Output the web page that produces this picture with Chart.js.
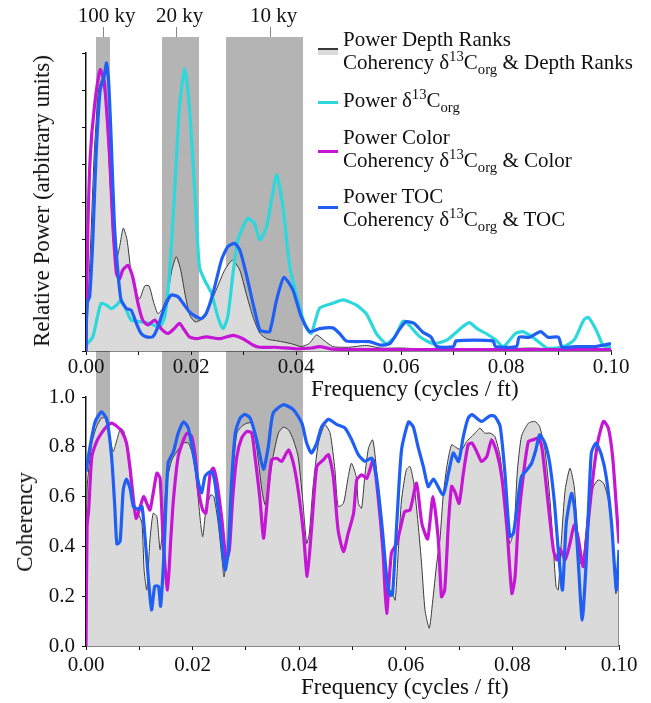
<!DOCTYPE html>
<html>
<head>
<meta charset="utf-8">
<script src="https://cdn.jsdelivr.net/npm/chart.js@4.4.1/dist/chart.umd.min.js"></script>
<style>
  body { margin: 0; background: #fff; }
  #wrap { position: relative; width: 651px; height: 703px; overflow: hidden;
          font-family: 'Liberation Serif', 'Times New Roman', serif; color: #111; }
  canvas { position: absolute; left: 0; }
  .txt { position: absolute; white-space: nowrap; }
  .title { font-size: 23px; line-height: 24px; }
  .vtitle { font-size: 23px; line-height: 24px; transform: translate(-50%, -50%) rotate(-90deg); }
  .legend { font-size: 21px; line-height: 23px; }
  .legend sup, .legend sub { font-size: 70%; line-height: 0; }
  .legend sub { vertical-align: -0.35em; }
  .legend sup { vertical-align: 0.55em; }
  .swatch { position: absolute; left: 318px; width: 20px; }
</style>
</head>
<body>
<div id="wrap">
  <canvas id="power" width="651" height="395" style="top:0"></canvas>
  <canvas id="coh" width="651" height="328" style="top:375px"></canvas>
  <div class="txt vtitle" style="left:42px; top:201px">Relative Power (arbitrary units)</div>
  <div class="txt title" style="left:311px; top:377px">Frequency (cycles / ft)</div>
  <div class="txt vtitle" style="left:25px; top:522px">Coherency</div>
  <div class="txt title" style="left:301px; top:675px">Frequency (cycles / ft)</div>
  <div id="legend"></div>
</div>
<script>
// orbital cycle bands (cycles / ft) and their labels
const cycleBands = [[0.0019, 0.0046], [0.0145, 0.0216], [0.0266, 0.0413]];
const cycleLabels = ['100 ky', '20 ky', '10 ky'];
const cycleLabelFreq = [0.00315, 0.0172, 0.0351];

// power spectra: [frequency, relative power]
const powerDepthRanks = [[0,0],[0.0008,2.6],[0.0016,5.4],[0.0024,7.0],[0.0031,7.3],[0.0038,6.6],[0.0045,4.8],
  [0.0051,3.1],[0.0057,2.4],[0.0064,2.8],[0.0071,3.3],[0.0078,3.0],[0.0086,2.1],[0.0094,1.6],[0.0102,1.4],
  [0.0112,1.75],[0.012,1.75],[0.0129,1.3],[0.0137,1.0],[0.0146,1.15],[0.0155,1.5],[0.0164,2.2],[0.0172,2.53],
  [0.018,2.2],[0.0189,1.5],[0.0198,0.95],[0.0208,0.78],[0.022,0.85],[0.0232,1.1],[0.0248,1.64],[0.0264,2.17],
  [0.0279,2.44],[0.0293,2.17],[0.0305,1.55],[0.0318,0.92],[0.0331,0.48],[0.0345,0.32],[0.0365,0.27],[0.039,0.2],
  [0.041,0.12],[0.0425,0.2],[0.0439,0.43],[0.0452,0.3],[0.047,0.12],[0.05,0.1],[0.0534,0.15],[0.056,0.08],
  [0.06,0.08],[0.065,0.05],[0.07,0.07],[0.075,0.05],[0.08,0.06],[0.085,0.08],[0.09,0.05],[0.095,0.04],[0.1,0.03]];
const powerD13C = [[0,0.16],[0.0013,0.38],[0.0023,1.0],[0.0029,1.28],[0.0039,1.23],[0.0048,1.14],[0.0058,1.23],
  [0.0067,1.36],[0.0077,1.1],[0.0086,0.83],[0.0102,0.79],[0.0121,0.74],[0.014,0.65],[0.015,0.92],[0.0159,2.08],
  [0.0169,4.32],[0.0178,6.55],[0.0188,7.58],[0.0197,6.55],[0.0207,4.32],[0.0216,2.26],[0.0226,1.9],[0.0239,1.55],
  [0.0251,0.92],[0.0261,0.6],[0.027,0.92],[0.028,2.08],[0.0289,2.98],[0.0299,3.33],[0.0308,3.56],[0.0321,3.42],
  [0.0331,2.98],[0.0344,3.33],[0.0363,4.72],[0.0375,3.87],[0.0388,2.26],[0.04,1.55],[0.0417,0.7],[0.0429,0.47],
  [0.0445,1.15],[0.047,1.28],[0.049,1.37],[0.0515,1.23],[0.0534,1.0],[0.0553,0.47],[0.0572,0.2],[0.0588,0.38],
  [0.0604,0.8],[0.0612,0.75],[0.0636,0.38],[0.0661,0.2],[0.0687,0.29],[0.0713,0.6],[0.073,0.76],[0.0745,0.6],
  [0.0762,0.47],[0.078,0.3],[0.0795,0.12],[0.0818,0.47],[0.0832,0.52],[0.085,0.38],[0.0866,0.2],[0.088,0.07],
  [0.091,0.12],[0.093,0.3],[0.0948,0.83],[0.0957,0.9],[0.0972,0.56],[0.0985,0.15],[0.1,0.1]];
const powerColor = [[0,0],[0.0003,2.9],[0.0008,5.2],[0.0016,6.55],[0.0027,7.55],[0.0035,7.2],[0.0045,5.2],
  [0.0051,3.42],[0.0058,2.08],[0.0064,1.94],[0.007,2.17],[0.008,2.3],[0.0089,1.99],[0.0099,1.28],[0.0108,0.83],
  [0.0118,0.7],[0.0131,0.83],[0.0143,0.6],[0.0156,0.47],[0.0168,0.6],[0.0178,0.74],[0.0188,0.55],[0.0197,0.38],
  [0.021,0.33],[0.0229,0.38],[0.0255,0.33],[0.028,0.42],[0.0299,0.33],[0.0318,0.16],[0.0331,0.1],[0.036,0.1],
  [0.04,0.06],[0.043,0.08],[0.0445,0.12],[0.047,0.05],[0.055,0.04],[0.065,0.04],[0.075,0.04],[0.085,0.04],[0.1,0.04]];
const powerTOC = [[0,0],[0.0002,1.28],[0.0007,1.46],[0.0013,2.98],[0.0019,5.2],[0.0027,7.0],[0.0035,7.4],
  [0.0039,7.73],[0.0043,7.27],[0.0048,5.66],[0.0054,3.42],[0.0061,2.08],[0.0067,1.36],[0.0077,1.14],[0.0086,1.1],
  [0.0096,0.74],[0.0105,0.47],[0.0115,0.38],[0.0127,0.38],[0.0137,0.65],[0.015,1.19],[0.0162,1.5],[0.0175,1.46],
  [0.0185,1.28],[0.0197,1.05],[0.021,0.92],[0.022,0.87],[0.0229,1.01],[0.0242,1.55],[0.0258,2.44],[0.027,2.8],
  [0.0283,2.89],[0.0293,2.71],[0.0305,2.08],[0.0318,1.28],[0.0331,0.56],[0.034,0.52],[0.035,0.52],[0.0363,1.37],
  [0.0377,1.98],[0.0394,1.64],[0.041,0.92],[0.0426,0.52],[0.0445,0.6],[0.047,0.62],[0.0483,0.47],[0.0496,0.27],
  [0.054,0.25],[0.056,0.16],[0.0579,0.2],[0.0598,0.6],[0.061,0.79],[0.0625,0.74],[0.0642,0.5],[0.0657,0.38],
  [0.0668,0.12],[0.07,0.12],[0.0705,0.27],[0.0775,0.27],[0.078,0.12],[0.082,0.12],[0.0825,0.37],[0.0845,0.37],
  [0.0866,0.52],[0.088,0.37],[0.09,0.37],[0.0907,0.1],[0.0935,0.12],[0.097,0.12],[0.1,0.2]];

// coherency with d13C: [frequency, coherency]
const cohDepthRanks = [[0,0],[0.0002,0.63],[0.0011,0.815],[0.002,0.882],[0.0029,0.915],[0.0036,0.915],
  [0.0044,0.842],[0.0051,0.781],[0.0058,0.828],[0.0065,0.875],[0.0071,0.862],[0.0077,0.788],[0.0084,0.667],
  [0.009,0.573],[0.0098,0.533],[0.0105,0.493],[0.0109,0.305],[0.0114,0.225],[0.012,0.426],[0.0126,0.533],
  [0.0133,0.52],[0.0139,0.386],[0.0145,0.493],[0.0151,0.654],[0.0161,0.747],[0.0173,0.788],[0.0183,0.815],
  [0.0192,0.815],[0.0201,0.761],[0.0209,0.627],[0.0215,0.493],[0.0219,0.439],[0.0225,0.546],[0.0234,0.607],
  [0.024,0.6],[0.0248,0.493],[0.0256,0.332],[0.0259,0.278],[0.0267,0.412],[0.0275,0.681],[0.0283,0.855],
  [0.0292,0.882],[0.0302,0.895],[0.0311,0.895],[0.032,0.8],[0.033,0.627],[0.0336,0.567],[0.0342,0.627],
  [0.0351,0.761],[0.0361,0.855],[0.037,0.879],[0.038,0.868],[0.0389,0.828],[0.0398,0.761],[0.0406,0.6],
  [0.0414,0.412],[0.0419,0.453],[0.0426,0.64],[0.0436,0.815],[0.0448,0.889],[0.0458,0.855],[0.0467,0.708],
  [0.0473,0.56],[0.0483,0.573],[0.0492,0.68],[0.0498,0.734],[0.0507,0.68],[0.0511,0.573],[0.0517,0.553],
  [0.0523,0.68],[0.053,0.795],[0.0538,0.828],[0.0545,0.708],[0.0553,0.466],[0.0561,0.265],[0.0567,0.198],
  [0.0573,0.225],[0.058,0.184],[0.0586,0.386],[0.0592,0.587],[0.0601,0.708],[0.0608,0.721],[0.0615,0.654],
  [0.0623,0.493],[0.063,0.319],[0.0636,0.145],[0.0644,0.071],[0.065,0.171],[0.0658,0.332],[0.0664,0.426],
  [0.067,0.6],[0.0677,0.721],[0.0686,0.808],[0.0696,0.795],[0.0705,0.788],[0.0714,0.821],[0.0724,0.842],
  [0.0733,0.862],[0.0739,0.875],[0.0748,0.855],[0.0758,0.855],[0.0767,0.842],[0.0777,0.761],[0.0786,0.587],
  [0.0795,0.412],[0.0803,0.466],[0.0809,0.694],[0.0817,0.842],[0.083,0.895],[0.0842,0.902],[0.0851,0.882],
  [0.0861,0.788],[0.087,0.6],[0.0877,0.386],[0.0882,0.238],[0.0886,0.225],[0.0892,0.426],[0.0899,0.627],
  [0.0908,0.714],[0.0916,0.64],[0.0922,0.466],[0.0928,0.332],[0.0934,0.373],[0.0942,0.546],[0.0952,0.64],
  [0.0961,0.667],[0.0971,0.654],[0.098,0.587],[0.0988,0.426],[0.0994,0.211],[0.0998,0.252],[0.1,0.25],[0.1,0]];
const cohColor = [[0,0],[0.0002,0.48],[0.0005,0.546],[0.0011,0.761],[0.002,0.821],[0.0029,0.855],[0.0039,0.882],
  [0.0048,0.895],[0.0058,0.882],[0.0067,0.862],[0.0076,0.815],[0.0083,0.708],[0.0089,0.587],[0.0094,0.513],
  [0.01,0.546],[0.0108,0.6],[0.0114,0.573],[0.012,0.546],[0.0126,0.613],[0.0133,0.694],[0.0139,0.674],
  [0.0145,0.412],[0.0153,0.225],[0.0159,0.426],[0.0164,0.587],[0.0173,0.761],[0.0183,0.828],[0.019,0.855],
  [0.0198,0.842],[0.0205,0.761],[0.0211,0.627],[0.0219,0.546],[0.0225,0.533],[0.0233,0.694],[0.0239,0.714],
  [0.0246,0.654],[0.0255,0.506],[0.0263,0.345],[0.0269,0.386],[0.0275,0.587],[0.0283,0.761],[0.0292,0.835],
  [0.0302,0.862],[0.0311,0.855],[0.0317,0.761],[0.0326,0.6],[0.0333,0.433],[0.0339,0.56],[0.0348,0.747],
  [0.0358,0.754],[0.0367,0.741],[0.038,0.788],[0.0389,0.734],[0.0398,0.627],[0.0408,0.453],[0.0415,0.28],
  [0.0423,0.466],[0.0433,0.721],[0.0445,0.747],[0.0455,0.768],[0.0464,0.68],[0.0473,0.466],[0.0483,0.379],
  [0.0492,0.453],[0.0502,0.533],[0.0508,0.667],[0.0517,0.687],[0.0527,0.674],[0.0539,0.747],[0.0548,0.6],
  [0.0557,0.386],[0.0564,0.131],[0.0573,0.373],[0.0583,0.412],[0.0592,0.493],[0.0598,0.54],[0.0608,0.546],
  [0.062,0.654],[0.063,0.493],[0.0641,0.43],[0.0651,0.6],[0.0661,0.426],[0.0667,0.198],[0.0673,0.225],
  [0.068,0.493],[0.0686,0.641],[0.0692,0.62],[0.07,0.573],[0.0708,0.694],[0.0717,0.808],[0.0724,0.815],
  [0.0733,0.781],[0.0742,0.741],[0.0752,0.761],[0.0761,0.828],[0.0771,0.775],[0.078,0.68],[0.079,0.466],
  [0.0799,0.211],[0.0805,0.278],[0.0811,0.493],[0.0821,0.694],[0.083,0.821],[0.0839,0.828],[0.0849,0.835],
  [0.0855,0.801],[0.0861,0.694],[0.0869,0.533],[0.0877,0.386],[0.0883,0.346],[0.0889,0.392],[0.0899,0.346],
  [0.0908,0.412],[0.0916,0.486],[0.0923,0.439],[0.0933,0.319],[0.0942,0.493],[0.0952,0.694],[0.0961,0.828],
  [0.0971,0.902],[0.098,0.875],[0.0988,0.761],[0.0995,0.56],[0.1,0.412]];
const cohTOC = [[0,0.7],[0.00075,0.8],[0.0017,0.9],[0.0029,0.94],[0.0039,0.91],[0.0048,0.76],[0.0054,0.56],
  [0.0058,0.41],[0.0064,0.42],[0.007,0.63],[0.0076,0.67],[0.0083,0.63],[0.0089,0.56],[0.0098,0.55],[0.0105,0.56],
  [0.0111,0.43],[0.0117,0.27],[0.0123,0.145],[0.0129,0.24],[0.0136,0.24],[0.014,0.16],[0.0146,0.36],[0.0154,0.735],
  [0.0164,0.78],[0.0173,0.855],[0.0183,0.9],[0.0192,0.875],[0.0201,0.775],[0.0211,0.655],[0.0217,0.615],
  [0.0223,0.68],[0.0229,0.695],[0.0236,0.7],[0.0242,0.655],[0.0251,0.49],[0.0261,0.305],[0.0267,0.385],
  [0.0273,0.655],[0.028,0.855],[0.0289,0.915],[0.0298,0.93],[0.0308,0.915],[0.032,0.83],[0.0333,0.71],
  [0.0342,0.8],[0.0351,0.935],[0.037,0.969],[0.0389,0.949],[0.0405,0.895],[0.0414,0.815],[0.0423,0.775],
  [0.0433,0.815],[0.0442,0.88],[0.0455,0.91],[0.047,0.89],[0.0486,0.875],[0.0498,0.83],[0.0511,0.768],
  [0.0523,0.742],[0.0536,0.755],[0.0545,0.68],[0.0555,0.49],[0.0564,0.28],[0.057,0.205],[0.0575,0.205],
  [0.0583,0.49],[0.0592,0.788],[0.0605,0.9],[0.0614,0.88],[0.0623,0.8],[0.0633,0.72],[0.0642,0.64],[0.0652,0.67],
  [0.067,0.607],[0.068,0.694],[0.0689,0.775],[0.0699,0.741],[0.0708,0.842],[0.0717,0.915],[0.0724,0.929],
  [0.0742,0.902],[0.0758,0.925],[0.0767,0.922],[0.0777,0.882],[0.0786,0.694],[0.0795,0.44],[0.0802,0.453],
  [0.0811,0.6],[0.0817,0.68],[0.0827,0.707],[0.0836,0.734],[0.0844,0.788],[0.0851,0.848],[0.0861,0.815],
  [0.087,0.734],[0.0879,0.573],[0.0886,0.386],[0.0894,0.225],[0.0901,0.493],[0.0911,0.613],[0.0917,0.546],
  [0.0923,0.359],[0.0931,0.104],[0.0939,0.359],[0.0948,0.775],[0.0957,0.815],[0.0967,0.768],[0.0976,0.68],
  [0.0986,0.493],[0.0995,0.225],[0.1,0.386]];

const d13C = 'δ<sup>13</sup>C<sub>org</sub>';
const legendEntries = [
  { lines: ['Power Depth Ranks', 'Coherency ' + d13C + ' &amp; Depth Ranks'], color: '#3a3a3a', top: 28, swatchY: 49, area: true },
  { lines: ['Power ' + d13C], color: '#2dd8dc', top: 89, swatchY: 102, area: false },
  { lines: ['Power Color', 'Coherency ' + d13C + ' &amp; Color'], color: '#c516d6', top: 126, swatchY: 151, area: false },
  { lines: ['Power TOC', 'Coherency ' + d13C + ' &amp; TOC'], color: '#1f5ff4', top: 185, swatchY: 207, area: false }
];

const FILL = '#dadada';
const BAND = '#b4b4b4';
const FONT = "'Liberation Serif', 'Times New Roman', serif";

Chart.defaults.font.family = FONT;
Chart.defaults.color = '#111';

function pts(arr) { return arr.map(p => ({ x: p[0], y: p[1] })); }

let powerChart = null;

// grey cycle bands behind everything, plus the ky labels over the top panel.
// both panels take the band edges from the top panel's x scale so they line up.
const bandsPlugin = {
  id: 'cycleBands',
  beforeDraw(chart, args, opts) {
    const { ctx } = chart;
    const x = (powerChart || chart).scales.x;
    const bottom = opts.toPlot ? chart.chartArea.bottom : chart.height;
    ctx.save();
    ctx.fillStyle = BAND;
    cycleBands.forEach(([a, b]) => {
      const x0 = Math.round(x.getPixelForValue(a)), x1 = Math.round(x.getPixelForValue(b));
      ctx.fillRect(x0, opts.top, x1 - x0, bottom - opts.top);
    });
    if (opts.labels) {
      ctx.fillStyle = '#111';
      ctx.strokeStyle = '#888';
      ctx.lineWidth = 1;
      ctx.font = '21px ' + FONT;
      ctx.textAlign = 'center';
      ctx.textBaseline = 'alphabetic';
      cycleLabels.forEach((t, i) => {
        const px = Math.round(x.getPixelForValue(cycleLabelFreq[i])) + 0.5;
        ctx.beginPath();
        ctx.moveTo(px, 27);
        ctx.lineTo(px, 37);
        ctx.stroke();
        ctx.fillText(t, px + 3, 22);
      });
    }
    ctx.restore();
  }
};

function xAxis(height, pad) {
  return {
    type: 'linear', min: 0, max: 0.1,
    afterFit: s => { s.height = height; },
    border: { color: '#111', width: 1.5 },
    grid: { drawOnChartArea: false, color: '#111', tickLength: 4 },
    ticks: {
      stepSize: 0.01, autoSkip: false, maxRotation: 0, padding: pad, color: '#111',
      font: { size: 21 },
      callback: (v, i) => (i % 2 === 0 ? v.toFixed(2) : '')
    }
  };
}

const lineStyle = { pointRadius: 0, tension: 0.2, borderJoinStyle: 'round' };

powerChart = new Chart(document.getElementById('power'), {
  type: 'line',
  data: {
    datasets: [
      { label: 'Power Depth Ranks', data: pts(powerDepthRanks), borderColor: '#3a3a3a', borderWidth: 1,
        backgroundColor: FILL, fill: 'origin', order: 4, ...lineStyle },
      { label: 'Power d13C', data: pts(powerD13C), borderColor: legendEntries[1].color, borderWidth: 3.2,
        fill: false, order: 3, ...lineStyle },
      { label: 'Power Color', data: pts(powerColor), borderColor: legendEntries[2].color, borderWidth: 3.2,
        fill: false, order: 2, ...lineStyle },
      { label: 'Power TOC', data: pts(powerTOC), borderColor: legendEntries[3].color, borderWidth: 3.2,
        fill: false, order: 1, ...lineStyle }
    ]
  },
  options: {
    responsive: false, animation: false, devicePixelRatio: 1,
    layout: { padding: { left: 0, right: 40, top: 53, bottom: 0 } },
    plugins: { legend: { display: false }, tooltip: { enabled: false },
               cycleBands: { top: 37, labels: true, toPlot: false } },
    scales: {
      x: xAxis(44, 0),
      y: {
        min: 0, max: 8,
        afterFit: s => { s.width = 86; },
        border: { color: '#111', width: 1.5 },
        grid: { drawOnChartArea: false, color: '#111', tickLength: 4 },
        ticks: { stepSize: 1, callback: () => '' }
      }
    }
  },
  plugins: [bandsPlugin]
});

new Chart(document.getElementById('coh'), {
  type: 'line',
  data: {
    datasets: [
      { label: 'Coherency Depth Ranks', data: pts(cohDepthRanks), borderColor: '#3a3a3a', borderWidth: 1,
        backgroundColor: FILL, fill: 'origin', order: 3, ...lineStyle },
      { label: 'Coherency Color', data: pts(cohColor), borderColor: legendEntries[2].color, borderWidth: 3.2,
        fill: false, order: 2, ...lineStyle },
      { label: 'Coherency TOC', data: pts(cohTOC), borderColor: legendEntries[3].color, borderWidth: 3.2,
        fill: false, order: 1, ...lineStyle }
    ]
  },
  options: {
    responsive: false, animation: false, devicePixelRatio: 1,
    layout: { padding: { left: 0, right: 32, top: 22, bottom: 0 } },
    plugins: { legend: { display: false }, tooltip: { enabled: false },
               cycleBands: { top: 20, labels: false, toPlot: true } },
    scales: {
      x: xAxis(57, 3),
      y: {
        min: 0, max: 1,
        afterFit: s => { s.width = 86; },
        border: { color: '#111', width: 1.5 },
        grid: { drawOnChartArea: false, color: '#111', tickLength: 4 },
        ticks: { stepSize: 0.2, padding: 7, color: '#111', font: { size: 21 }, callback: v => v.toFixed(1) }
      }
    }
  },
  plugins: [bandsPlugin]
});

// legend, built from the entries above
const legend = document.getElementById('legend');
legendEntries.forEach(e => {
  const block = document.createElement('div');
  block.className = 'txt legend';
  block.style.left = '343px';
  block.style.top = e.top + 'px';
  block.innerHTML = e.lines.join('<br>');
  legend.appendChild(block);
  if (e.area) {
    const box = document.createElement('div');
    box.className = 'swatch';
    box.style.top = e.swatchY + 'px';
    box.style.height = '6px';
    box.style.background = FILL;
    legend.appendChild(box);
  }
  const sw = document.createElement('div');
  sw.className = 'swatch';
  sw.style.top = (e.swatchY - (e.area ? 1 : 1.5)) + 'px';
  sw.style.height = e.area ? '1.5px' : '3px';
  sw.style.background = e.color;
  legend.appendChild(sw);
});
</script>
</body>
</html>
